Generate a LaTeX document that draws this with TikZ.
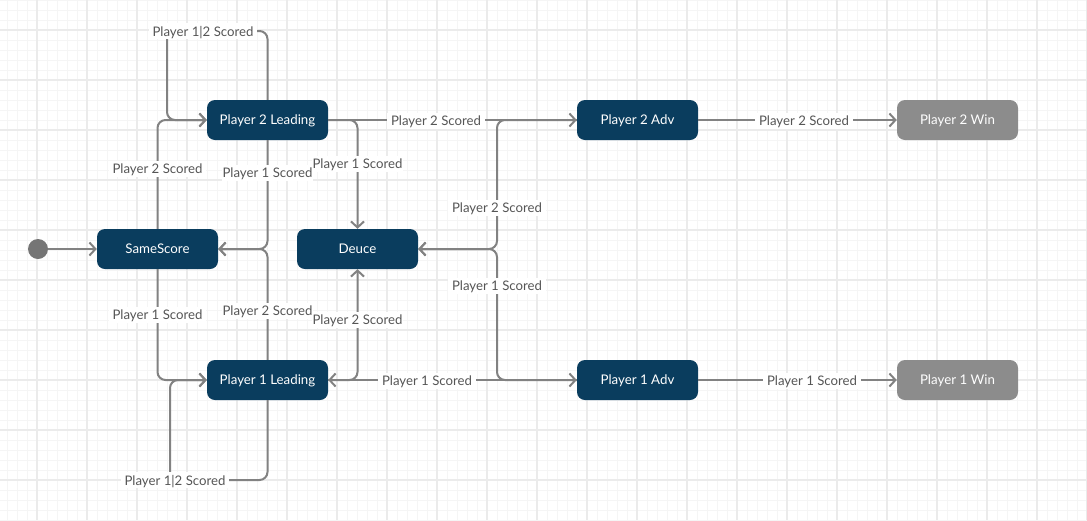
\documentclass[tikz,border=0pt]{standalone}
\usepackage{fontspec}
\setmainfont{Lato}
\usetikzlibrary{arrows.meta}
\definecolor{nodeblue}{HTML}{0A3D5E}
\definecolor{wingrey}{HTML}{8C8C8C}
\definecolor{linegrey}{HTML}{828282}
\definecolor{lbltext}{HTML}{555555}
\definecolor{gridmajor}{HTML}{EBEBEB}
\definecolor{gridminor}{HTML}{F5F5F5}
\tikzset{
  state/.style={draw=none, fill=nodeblue, rounded corners=8pt, minimum width=121pt, minimum height=40pt, inner sep=0pt, text=white, text depth=0pt, font=\fontsize{13.3}{15}\selectfont},
  winstate/.style={state, fill=wingrey},
  conn/.style={draw=linegrey, line width=2pt, rounded corners=8pt, -{Straight Barb[length=6pt,width=13pt]}},
  lbl/.style={fill=white, inner xsep=4pt, inner ysep=3pt, text=lbltext, text depth=0pt, font=\fontsize{13.2}{15}\selectfont},
  lbltight/.style={lbl, inner xsep=0.5pt},
  initstate/.style={circle, fill=linegrey!90!black, minimum size=20pt, inner sep=0pt, draw=none}
}
\begin{document}
\begin{tikzpicture}[x=1pt,y=-1pt]
\useasboundingbox (0,0) rectangle (1087,520);
\fill[white] (0,0) rectangle (1087,520);
% grid
\foreach \x in {7,17,...,1087} \draw[gridminor, line width=1pt] (\x,0) -- (\x,520);
\foreach \y in {0,10,...,520} \draw[gridminor, line width=1pt] (0,\y) -- (1087,\y);
\foreach \x in {37,87,...,1087} \draw[gridmajor, line width=1.5pt] (\x,0) -- (\x,520);
\foreach \y in {30,80,...,520} \draw[gridmajor, line width=1.5pt] (0,\y) -- (1087,\y);

% nodes
\node[initstate] (init) at (38,249) {};
\node[state] (SS) at (157.5,249) {SameScore};
\node[state] (P2L) at (267.5,120) {Player 2 Leading};
\node[state] (Deuce) at (357.5,249) {Deuce};
\node[state] (P1L) at (267.5,380) {Player 1 Leading};
\node[state] (P2A) at (637.5,120) {Player 2 Adv};
\node[state] (P1A) at (637.5,380) {Player 1 Adv};
\node[winstate] (P2W) at (957.5,120) {Player 2 Win};
\node[winstate] (P1W) at (957.5,380) {Player 1 Win};

\coordinate (t1) at (167,31);
\coordinate (b1) at (170,480);
\coordinate (jx) at (497,249);

% connectors
\draw[conn] (init) -- (SS);
\draw[conn] (SS.north) |- (P2L.west);
\draw[conn] (P2L.north) |- (t1) |- (P2L.west);
\draw[conn] (P2L.south) |- (SS.east);
\draw[conn] (P2L.east) -| (Deuce.north);
\draw[conn] (P2L) -- (P2A);
\draw[conn] (P2A.west) -| (jx) -- (Deuce.east);
\draw[conn] (P1A.west) -| (jx) -- (Deuce.east);
\draw[conn] (P2A) -- (P2W);
\draw[conn] (P1A) -- (P1W);
\draw[conn] (SS.south) |- (P1L.west);
\draw[conn] (P1L.north) |- (SS.east);
\draw[conn, {Straight Barb[length=6pt,width=13pt]}-{Straight Barb[length=6pt,width=13pt]}] (P1L.east) -| (Deuce.south);
\draw[conn] (P1L) -- (P1A);
\draw[conn] (P1L.south) |- (b1) |- (P1L.west);

% labels
\node[lbl] (l1) at (203,31) {Player 1|2 Scored};
\node[lbl] (l2) at (157.5,169) {Player 2 Scored};
\node[lbltight] (l3) at (267.5,173) {Player 1 Scored};
\node[lbltight] (l4) at (357.5,164) {Player 1 Scored};
\node[lbl] (l5) at (436,121) {Player 2 Scored};
\node[lbl] (l6) at (497,208) {Player 2 Scored};
\node[lbl] (l7) at (497,286) {Player 1 Scored};
\node[lbl] (l8) at (804,121) {Player 2 Scored};
\node[lbl] (l9) at (812,381) {Player 1 Scored};
\node[lbl] (l10) at (157.5,315) {Player 1 Scored};
\node[lbltight] (l11) at (267.5,311) {Player 2 Scored};
\node[lbltight] (l12) at (357.5,320) {Player 2 Scored};
\node[lbl] (l13) at (427,381) {Player 1 Scored};
\node[lbl] (l14) at (175,480) {Player 1|2 Scored};
\end{tikzpicture}
\end{document}
